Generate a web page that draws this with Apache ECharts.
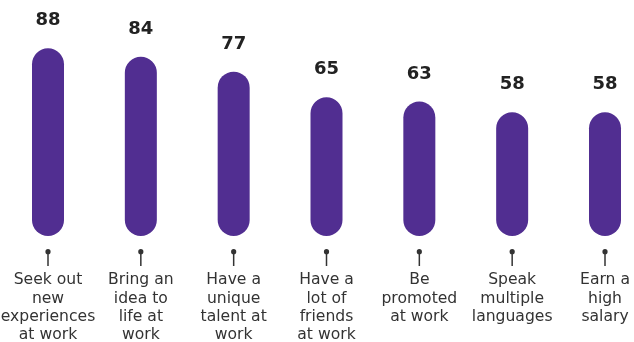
<!DOCTYPE html>
<html>
<head>
<meta charset="utf-8">
<script src="https://cdn.jsdelivr.net/npm/echarts@6/dist/echarts.min.js"></script>
<style>
  html, body { margin: 0; padding: 0; background: #fff; }
  #chart { width: 634px; height: 342px; }
</style>
</head>
<body>
<div id="chart"></div>
<script>
const categories = [
  'Seek out\nnew\nexperiences\nat work',
  'Bring an\nidea to\nlife at\nwork',
  'Have a\nunique\ntalent at\nwork',
  'Have a\nlot of\nfriends\nat work',
  'Be\npromoted\nat work',
  'Speak\nmultiple\nlanguages',
  'Earn a\nhigh\nsalary'
];
const values = [88, 84, 77, 65, 63, 58, 58];

const barColor = '#512E91';
const inkColor = '#333333';
const fontFamily = '"DejaVu Sans", Verdana, sans-serif';

const chart = echarts.init(document.getElementById('chart'), null, { renderer: 'canvas' });

chart.setOption({
  animation: false,
  grid: {
    left: 48, right: 29, top: 22.6, bottom: 106,
    containLabel: false,
    outerBoundsMode: 'none'
  },
  xAxis: {
    type: 'category',
    data: categories,
    boundaryGap: false,
    axisLine: { show: false },
    axisTick: { show: false },
    axisLabel: {
      interval: 0,
      margin: 35,
      hideOverlap: false,
      color: inkColor,
      fontFamily: fontFamily,
      fontSize: 15.6,
      lineHeight: 18.3,
      align: 'center'
    }
  },
  yAxis: {
    type: 'value',
    min: 0,
    max: 100,
    show: false,
    splitLine: { show: false }
  },
  series: [
    {
      type: 'bar',
      data: values,
      barWidth: 32,
      itemStyle: { color: barColor, borderRadius: 16 },
      label: {
        show: true,
        position: 'top',
        distance: 18.5,
        color: '#222',
        fontFamily: fontFamily,
        fontWeight: 'bold',
        fontSize: 18
      }
    },
    {
      // pin markers under each bar
      type: 'custom',
      data: values.map((v, i) => [i, 0]),
      silent: true,
      renderItem: function (params, api) {
        const p = api.coord([api.value(0), 0]);
        return {
          type: 'group',
          children: [
            {
              type: 'line',
              shape: { x1: p[0], y1: p[1] + 15.7, x2: p[0], y2: p[1] + 30 },
              style: { stroke: inkColor, lineWidth: 1.5 }
            },
            {
              type: 'circle',
              shape: { cx: p[0], cy: p[1] + 15.7, r: 2.6 },
              style: { fill: inkColor }
            }
          ]
        };
      }
    }
  ]
});
</script>
</body>
</html>
